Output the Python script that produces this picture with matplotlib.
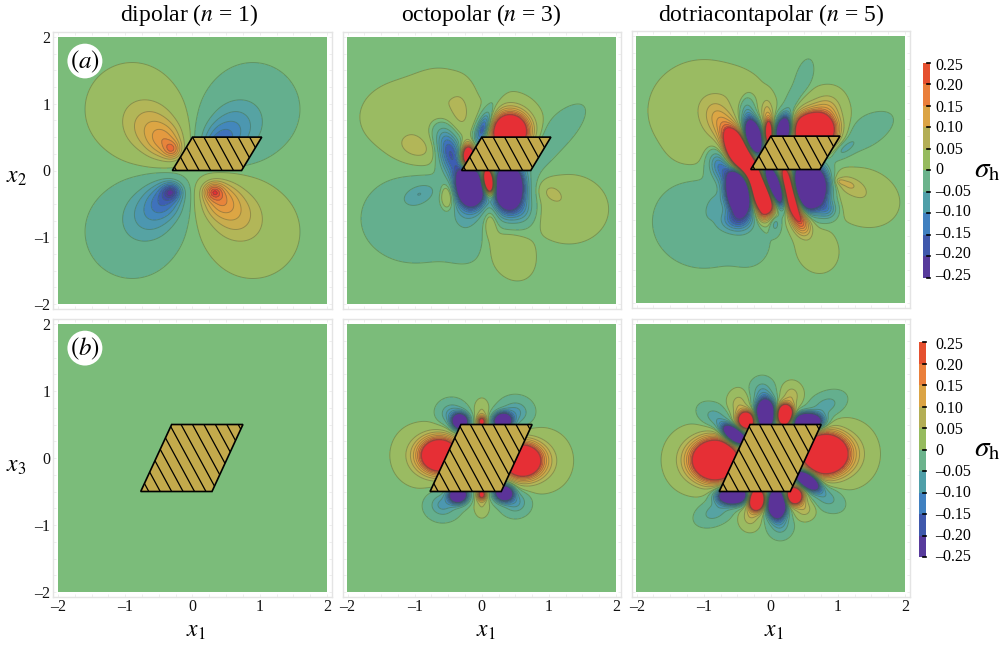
import numpy as np
import matplotlib
matplotlib.use('Agg')
import matplotlib.pyplot as plt
from matplotlib.patches import Polygon, Circle
from matplotlib.ticker import MultipleLocator

plt.rcParams['font.family'] = ['Liberation Serif', 'DejaVu Serif']
plt.rcParams['mathtext.fontset'] = 'stix'

W, H = 1002, 647

# contour levels and band colours of sigma_h
pos_levels = [0.01, 0.05, 0.08, 0.11, 0.14, 0.17, 0.20, 0.23, 0.25]
pos_colors = ['#9abb62', '#b2b658', '#c9ad4e', '#dca644', '#e49a40', '#e8843b', '#ea6a36', '#e74e34', '#e62f35']
neg_colors = ['#64af8e', '#56a3a3', '#4c97b0', '#4387bc', '#3f72bc', '#3d5eb2', '#3f4da8', '#4a409f', '#5b3398']
background = '#7bbc7a'

bar_ticks = [0.25, 0.20, 0.15, 0.10, 0.05, 0, -0.05, -0.10, -0.15, -0.20, -0.25]
bar_labels = ['0.25', '0.20', '0.15', '0.10', '0.05', '0', '\u20130.05', '\u20130.10', '\u20130.15', '\u20130.20', '\u20130.25']
bar_colors = ['#e5502f', '#ea7f3b', '#dba445', '#b3ae55', '#96bb5e', '#6bb38c', '#4f9fa8', '#4080c0', '#3f58ac', '#573b9c']

titles = ['dipolar ($n$ = 1)', 'octopolar ($n$ = 3)', 'dotriacontapolar ($n$ = 5)']

# parallelograms (x1, x2)
inclusion_top = [(-0.30, 0), (0, 0.5), (1.03, 0.5), (0.73, 0)]
inclusion_bottom = [(-0.77, -0.5), (-0.31, 0.5), (0.75, 0.5), (0.29, -0.5)]

# lobes: x, y, peak value, width x, width y, tilt in degrees
dipole_a = [
    (-0.30, 0.31, 0.11, 0.09, 0.09, 0), (-0.40, 0.42, 0.10, 0.18, 0.18, 0), (-0.60, 0.62, 0.08, 0.27, 0.27, 0), (-0.90, 0.92, 0.035, 0.44, 0.44, 0),
    (0.30, 0.31, -0.11, 0.09, 0.09, 0), (0.40, 0.42, -0.10, 0.18, 0.18, 0), (0.60, 0.62, -0.08, 0.27, 0.27, 0), (0.90, 0.92, -0.035, 0.44, 0.44, 0),
    (-0.31, -0.31, -0.15, 0.10, 0.09, 0), (-0.40, -0.42, -0.11, 0.18, 0.18, 0), (-0.60, -0.62, -0.08, 0.27, 0.27, 0), (-0.90, -0.92, -0.035, 0.44, 0.44, 0),
    (0.31, -0.31, 0.14, 0.10, 0.09, 0), (0.40, -0.42, 0.11, 0.18, 0.18, 0), (0.60, -0.62, 0.08, 0.27, 0.27, 0), (0.90, -0.92, 0.035, 0.44, 0.44, 0),
]
octo_a = [
    (-1.05, 0.8, 0.04, 0.46, 0.34, 0), (-0.6, 1.1, 0.03, 0.26, 0.26, 0), (-0.97, 0.33, 0.055, 0.22, 0.14, -15), (-0.30, 0.85, 0.04, 0.12, 0.26, 0),
    (-1.0, -0.72, -0.04, 0.48, 0.4, 0), (-0.92, -0.34, -0.055, 0.18, 0.1, 20), (-0.2, -1.0, -0.02, 0.25, 0.28, 0),
    (0.12, 0.85, -0.035, 0.08, 0.22, -25), (1.1, 0.55, -0.045, 0.34, 0.13, 45), (0.85, 0.2, -0.03, 0.2, 0.1, 45),
    (1.3, -0.58, 0.045, 0.34, 0.3, 0), (1.02, -0.32, 0.04, 0.13, 0.1, -25),
    (0.42, -1.2, 0.045, 0.2, 0.28, 30), (0.13, -0.74, 0.055, 0.08, 0.17, 0),
    (0.42, 0.58, 0.55, 0.17, 0.17, 0), (0.42, 0.62, 0.1, 0.24, 0.26, 0), (-0.47, 0.26, -0.2, 0.12, 0.24, 15),
    (-0.65, 0.6, -0.03, 0.13, 0.2, 30),
    (0.02, 0.62, -0.22, 0.07, 0.17, -20), (-0.2, 0.2, 0.6, 0.07, 0.12, 0),
    (-0.17, -0.24, -0.8, 0.12, 0.17, 10), (0.4, -0.25, -0.8, 0.12, 0.19, 0), (0.40, -0.3, -0.14, 0.22, 0.32, 0),
    (-0.22, -0.3, -0.12, 0.16, 0.3, 0),
    (0.10, -0.16, 0.9, 0.055, 0.12, 10),
    (-0.5, -0.39, 0.09, 0.08, 0.15, 0), (0.62, -0.6, -0.05, 0.12, 0.14, 0),
]
dotri_a = [
    (-1.0, 0.88, 0.04, 0.5, 0.46, 0), (-0.5, 1.2, 0.02, 0.22, 0.16, 0), (-1.2, 0.3, 0.015, 0.2, 0.18, 0),
    (-1.0, -0.78, -0.04, 0.46, 0.42, 0), (-0.85, -0.53, -0.04, 0.07, 0.12, -20), (-0.3, -1.1, -0.02, 0.2, 0.24, 0),
    (-0.47, 0.25, 0.9, 0.105, 0.22, 25), (-0.3, -0.05, 0.4, 0.09, 0.2, 25), (-0.14, -0.34, 0.9, 0.11, 0.21, 20),
    (-0.26, 0.48, -0.9, 0.08, 0.16, 10), (-0.03, 0.54, 0.5, 0.045, 0.13, 0), (0.19, 0.58, -0.7, 0.08, 0.14, -10),
    (0.64, 0.58, 0.8, 0.18, 0.15, 0), (0.64, 0.62, 0.1, 0.26, 0.26, 0), (-0.46, -0.31, -1.0, 0.12, 0.21, 5),
    (0.04, -0.24, -0.9, 0.09, 0.2, 25), (0.29, -0.34, 0.9, 0.085, 0.25, 15), (0.54, -0.26, -1.1, 0.17, 0.2, 0),
    (-0.76, 0.72, 0.09, 0.14, 0.22, 25), (-0.36, 0.85, -0.08, 0.08, 0.18, 0), (-0.06, 0.85, 0.08, 0.07, 0.16, 0),
    (0.3, 0.95, -0.05, 0.08, 0.2, -20), (0.5, 1.38, -0.035, 0.08, 0.18, -15), (0.84, 0.9, 0.07, 0.15, 0.18, -20),
    (1.38, 0.55, -0.04, 0.3, 0.14, 30), (1.08, 0.3, -0.06, 0.15, 0.07, 35),
    (1.38, -0.42, 0.045, 0.32, 0.25, -20), (1.13, -0.21, 0.06, 0.16, 0.09, -20), (1.03, -0.18, 0.04, 0.05, 0.03, -20),
    (0.69, -1.2, 0.04, 0.19, 0.22, 25), (-0.76, 0.05, -0.14, 0.11, 0.17, 20), (-0.52, -0.76, -0.12, 0.15, 0.11, 0),
    (0.06, -0.78, -0.1, 0.06, 0.11, 0), (0.48, -0.8, 0.14, 0.09, 0.13, 15), (-0.13, -0.68, 0.06, 0.05, 0.08, 0),
    (0.85, -0.6, -0.1, 0.1, 0.1, 0),
]
dipole_b = []
octo_b = [
    (-0.62, 0.04, 0.6, 0.19, 0.17, 0), (-0.95, 0.04, 0.045, 0.24, 0.27, 0), (0.6, -0.04, 0.6, 0.19, 0.17, 0), (0.95, -0.04, 0.045, 0.24, 0.27, 0),
    (-0.45, 0.66, -0.09, 0.13, 0.12, 0), (-0.32, 0.54, -0.6, 0.08, 0.08, 0),
    (0.5, 0.68, -0.09, 0.15, 0.13, 0), (0.31, 0.55, -0.6, 0.09, 0.08, 0),
    (0, 0.7, 0.05, 0.07, 0.11, 0), (0, 0.54, 0.3, 0.05, 0.06, 0),
    (-0.58, -0.7, -0.09, 0.15, 0.13, 0), (-0.35, -0.55, -0.6, 0.09, 0.08, 0),
    (0.5, -0.66, -0.09, 0.13, 0.12, 0), (0.33, -0.52, -0.6, 0.09, 0.08, 0),
    (0, -0.7, 0.05, 0.07, 0.11, 0), (0, -0.54, 0.3, 0.05, 0.06, 0),
]
dotri_b = [
    (-0.82, -0.03, 0.8, 0.21, 0.19, 0), (-1.2, -0.03, 0.05, 0.24, 0.28, 0), (0.8, 0.06, 0.8, 0.21, 0.19, 0), (1.2, 0.06, 0.05, 0.24, 0.28, 0),
    (-0.54, 0.34, -0.8, 0.13, 0.07, -35), (-0.82, 0.6, -0.07, 0.17, 0.11, -30),
    (-0.36, 0.56, 0.6, 0.09, 0.09, -25), (-0.48, 0.8, 0.07, 0.1, 0.13, 0),
    (-0.08, 0.66, -0.9, 0.09, 0.13, 0), (-0.13, 1.0, -0.07, 0.11, 0.12, 0),
    (0.21, 0.64, 0.8, 0.08, 0.1, 0), (0.31, 0.93, 0.07, 0.1, 0.12, 0),
    (0.54, 0.54, -0.8, 0.14, 0.08, 0), (0.82, 0.78, -0.07, 0.18, 0.11, 25),
    (-0.21, -0.62, 0.8, 0.08, 0.1, 0), (-0.31, -0.88, 0.07, 0.1, 0.12, 0),
    (0.09, -0.68, -0.9, 0.09, 0.13, 0), (0.14, -1.0, -0.07, 0.11, 0.12, 0),
    (-0.56, -0.56, -0.8, 0.14, 0.08, 0), (-0.83, -0.8, -0.07, 0.18, 0.11, 25),
    (0.34, -0.56, 0.6, 0.09, 0.09, -25), (0.5, -0.76, 0.07, 0.1, 0.1, 0),
    (0.54, -0.33, -0.8, 0.13, 0.07, -35), (0.82, -0.58, -0.07, 0.17, 0.11, -30),
]

top_row = [dipole_a, octo_a, dotri_a]
bottom_row = [dipole_b, octo_b, dotri_b]

# panel edges in pixels: left, right of the field, then top, bottom for each row
panel_x = [(58, 327), (347.5, 616), (636.7, 905)]
panel_y = [[(37, 304), (37, 304), (36, 303)], [(324, 592), (324, 592), (324, 592)]]
margin = 0.07


def build_field(lobes, X, Y):
    Z = np.zeros_like(X)
    for x0, y0, amp, sx, sy, tilt in lobes:
        t = np.radians(tilt)
        u = (X - x0) * np.cos(t) + (Y - y0) * np.sin(t)
        v = -(X - x0) * np.sin(t) + (Y - y0) * np.cos(t)
        Z += amp * np.exp(-0.5 * (u / sx) ** 2 - 0.5 * (v / sy) ** 2)
    return Z


def draw_inclusion(ax, corners):
    patch = Polygon(corners, closed=True, facecolor='#c3aa4c', edgecolor='none', zorder=5)
    ax.add_patch(patch)
    for start in np.arange(-1.6, 1.8, 0.17):
        line, = ax.plot([start - 0.54, start + 0.54], [1.0, -1.0], color='black', lw=0.9, zorder=6)
        line.set_clip_path(patch)
    ax.add_patch(Polygon(corners, closed=True, facecolor='none', edgecolor='black', lw=1.2, zorder=7))


levels = [-v for v in pos_levels[::-1]] + pos_levels
band_colors = neg_colors[::-1] + [background] + pos_colors

grid = np.linspace(-2, 2, 500)
X, Y = np.meshgrid(grid, grid)

fig = plt.figure(figsize=(W / 100, H / 100), dpi=100, facecolor='white')

for row, (lobes_row, corners) in enumerate([(top_row, inclusion_top), (bottom_row, inclusion_bottom)]):
    for col in range(3):
        x0, x1 = panel_x[col]
        y0, y1 = panel_y[row][col]
        sx = (x1 - x0) / 4
        sy = (y1 - y0) / 4
        left = x0 - margin * sx
        right = x1 + margin * sx
        top = y0 - margin * sy
        bottom = y1 + margin * sy
        ax = fig.add_axes([left / W, 1 - bottom / H, (right - left) / W, (bottom - top) / H])
        ax.set_xlim(-2 - margin, 2 + margin)
        ax.set_ylim(-2 - margin, 2 + margin)

        Z = build_field(lobes_row[col], X, Y)
        ax.contourf(X, Y, Z, levels=levels, colors=band_colors, extend='both')
        ax.contour(X, Y, Z, levels=levels, colors='#3d5a40', linewidths=0.7, alpha=0.4, linestyles='solid')
        draw_inclusion(ax, corners)

        for spine in ax.spines.values():
            spine.set_color('#e4e4e4')
            spine.set_linewidth(1.0)
        ax.xaxis.set_major_locator(MultipleLocator(1))
        ax.yaxis.set_major_locator(MultipleLocator(1))
        ax.xaxis.set_minor_locator(MultipleLocator(0.25))
        ax.yaxis.set_minor_locator(MultipleLocator(0.25))
        ax.tick_params(which='both', direction='in', color='#ebebeb', length=2, width=0.6, top=True, right=True)
        ax.tick_params(labelsize=11.5, labelcolor='#111111', pad=2)
        fmt = lambda v, p=None: f'{v:.0f}'.replace('-', '\u2013')
        ax.xaxis.set_major_formatter(fmt)
        ax.yaxis.set_major_formatter(fmt)
        if row == 0:
            ax.tick_params(labelbottom=False)
        if col > 0:
            ax.tick_params(labelleft=False)
        if col == 0:
            ax.add_patch(Circle((-1.6, 1.64), 0.26, facecolor='white', edgecolor='none', zorder=8))
            ax.text(-1.6, 1.63, '$(a)$' if row == 0 else '$(b)$', fontsize=18, ha='center', va='center', zorder=9)


def px_text(x, y, s, **kw):
    fig.text(x / W, 1 - y / H, s, ha=kw.pop('ha', 'center'), va=kw.pop('va', 'center'), **kw)


for s, x in zip(titles, [189, 481, 771]):
    px_text(x, 15, s, fontsize=17)
px_text(16, 178, '$x_2$', fontsize=17)
px_text(16, 466, '$x_3$', fontsize=17)
for x in [196, 486, 774]:
    px_text(x, 632, '$x_1$', fontsize=17)


def draw_bar(left, right, top, bottom, label_top, label_step, sigma_y):
    ax = fig.add_axes([left / W, 1 - bottom / H, (right - left) / W, (bottom - top) / H])
    ax.set_xlim(0, 1)
    ax.set_ylim(bar_ticks[-1], bar_ticks[0])
    for i, color in enumerate(bar_colors):
        ax.barh((bar_ticks[i] + bar_ticks[i + 1]) / 2, 1, height=bar_ticks[i] - bar_ticks[i + 1], left=0, color=color, lw=0)
    for v in bar_ticks:
        ax.plot([0.55, 1], [v, v], color='black', lw=1.2, clip_on=False)
    ax.axis('off')
    for i, label in enumerate(bar_labels):
        px_text(935, label_top + i * label_step, label, fontsize=11.5, ha='left')
    px_text(987, sigma_y, r'$\sigma_{\mathrm{h}}$', fontsize=21)


draw_bar(923, 930, 62.5, 278, 65.5, 21, 170)
draw_bar(918.5, 926, 342.5, 557, 345, 21.2, 449)

fig.savefig('out.png', dpi=100)
